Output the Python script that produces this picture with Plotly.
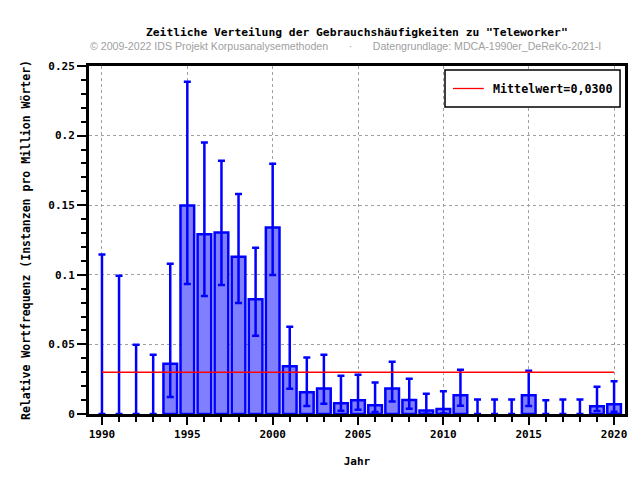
import plotly.graph_objects as go

years = list(range(1990, 2021))
values = [0, 0, 0, 0, 0.0361, 0.1497, 0.1291, 0.1303, 0.1130, 0.0824,
          0.1340, 0.0343, 0.0156, 0.0184, 0.0077, 0.0098, 0.0062, 0.0184,
          0.0101, 0.0026, 0.0036, 0.0134, 0, 0, 0, 0.0134, 0, 0, 0, 0.0055, 0.0070]
upper = [0.1145, 0.0994, 0.0498, 0.0426, 0.1080, 0.2387, 0.1950, 0.1820, 0.1580, 0.1195,
         0.1798, 0.0627, 0.0405, 0.0426, 0.0275, 0.0282, 0.0227, 0.0376,
         0.0254, 0.0146, 0.0163, 0.0318, 0.0105, 0.0105, 0.0105, 0.0311, 0.0098, 0.0105, 0.0105, 0.0196, 0.0235]
lower = [0, 0, 0, 0, 0.0122, 0.0934, 0.0848, 0.0927, 0.0797, 0.0563,
         0.0999, 0.0182, 0.0057, 0.0074, 0.0024, 0.0031, 0.0014, 0.0089,
         0.0038, 0.0002, 0.0004, 0.0060, 0, 0, 0, 0.0057, 0, 0, 0, 0.0021, 0.0017]
mean_value = 0.03
mean_label = "Mittelwert=0,0300"
y_ticks = [0, 0.05, 0.1, 0.15, 0.2, 0.25]
y_ticklabels = ["0", "0.05", "0.1", "0.15", "0.2", "0.25"]
x_ticks = [1990, 1995, 2000, 2005, 2010, 2015, 2020]

mono = "DejaVu Sans Mono"

L, R, T, B = 89, 12, 66, 66
plot_w = 640 - L - R
plot_h = 480 - T - B


def px_x(px):
    return (px - L) / plot_w


def px_y(py):
    return (480 - B - py) / plot_h


err_plus = [u - v for u, v in zip(upper, values)]
err_minus = [v - l for v, l in zip(values, lower)]
line_widths = [2.5 if v > 0 else 0 for v in values]

fig = go.Figure()
fig.add_trace(go.Bar(
    x=years, y=values, width=0.8,
    marker=dict(color="#8080ff", line=dict(color="#0000ff", width=line_widths)),
    error_y=dict(type="data", array=err_plus, arrayminus=err_minus,
                 color="#0000ff", thickness=2.5, width=3.5, symmetric=False),
    showlegend=False,
))
fig.add_trace(go.Scatter(
    x=[years[0], years[-1]], y=[mean_value, mean_value], mode="lines",
    line=dict(color="#ff0000", width=1.3),
    name=mean_label, showlegend=False,
))

shapes = [
    dict(type="rect", xref="paper", yref="paper",
         x0=px_x(447), x1=px_x(623), y0=px_y(107), y1=px_y(70),
         line=dict(color="black", width=1.5), fillcolor="white", layer="above"),
    dict(type="line", xref="paper", yref="paper",
         x0=px_x(455), x1=px_x(486), y0=px_y(88.5), y1=px_y(88.5),
         line=dict(color="#ff0000", width=1.3), layer="above"),
]

fig.update_layout(
    width=640, height=480,
    margin=dict(l=L, r=R, t=T, b=B),
    paper_bgcolor="white", plot_bgcolor="white",
    font=dict(family=mono, size=11, color="black"),
    showlegend=False,
    shapes=shapes,
    xaxis=dict(
        range=[1989.24, 2020.64],
        tickvals=x_ticks, ticktext=[str(t) for t in x_ticks],
        ticks="outside", ticklen=8, tickwidth=2, tickcolor="black",
        minor=dict(dtick=1, tick0=1990, ticks="outside", ticklen=5, tickwidth=2, tickcolor="black", showgrid=False),
        showgrid=True, gridcolor="#a0a0a0", griddash="dot", gridwidth=1,
        showline=True, linecolor="black", linewidth=3, mirror=True,
        zeroline=False,
        tickfont=dict(family=mono, size=11, weight="bold"),
        title=dict(text="Jahr", font=dict(family=mono, size=11, weight="bold"), standoff=18),
    ),
    yaxis=dict(
        range=[0, 0.25],
        tickvals=y_ticks, ticktext=y_ticklabels,
        ticks="outside", ticklen=9, tickwidth=2, tickcolor="black",
        minor=dict(dtick=0.01, tick0=0, ticks="outside", ticklen=5, tickwidth=2, tickcolor="black", showgrid=False),
        showgrid=True, gridcolor="#a0a0a0", griddash="dot", gridwidth=1,
        showline=True, linecolor="black", linewidth=3, mirror=True,
        zeroline=False,
        tickfont=dict(family=mono, size=11, weight="bold"),
        title=dict(text="Relative Wortfrequenz (Instanzen pro Million Wörter)",
                   font=dict(family=mono, size=11.5, weight="bold"), standoff=16),
    ),
    annotations=[
        dict(text='Zeitliche Verteilung der Gebrauchshäufigkeiten zu "Teleworker"',
             x=px_x(358), y=px_y(33), xref="paper", yref="paper", showarrow=False,
             xanchor="center", yanchor="middle",
             font=dict(family=mono, size=11.3, weight="bold", color="black")),
        dict(text="© 2009-2022 IDS Projekt Korpusanalysemethoden&nbsp;&nbsp;&nbsp;&nbsp;&nbsp;&nbsp;&nbsp;·&nbsp;&nbsp;&nbsp;&nbsp;&nbsp;&nbsp;&nbsp;Datengrundlage: MDCA-1990er_DeReKo-2021-I",
             x=px_x(347), y=px_y(46), xref="paper", yref="paper", showarrow=False,
             xanchor="center", yanchor="middle",
             font=dict(family="Liberation Sans", size=10.6, color="#a0a0a0")),
        dict(text=mean_label, x=px_x(493), y=px_y(88.5), xref="paper", yref="paper",
             xanchor="left", yanchor="middle", showarrow=False,
             font=dict(family=mono, size=11.7, weight="bold", color="black")),
    ],
)

fig.write_html("out.html")
